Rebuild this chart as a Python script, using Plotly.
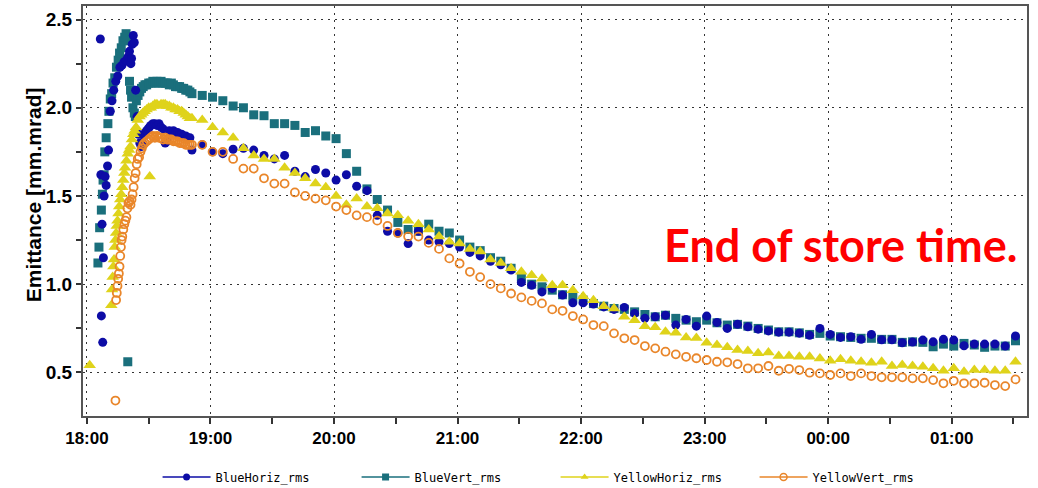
import plotly.graph_objects as go
import pandas as pd

# ---------------- data ----------------
# early (dense) samples, 18:00 - 18:51
bh_early_t = ["18:06:30", "18:06:45", "18:07:00", "18:07:20", "18:07:40", "18:08:00", "18:08:20", "18:08:50",
              "18:09:20", "18:10:00", "18:10:30", "18:11:20", "18:12:10", "18:13:00", "18:14:00", "18:15:00",
              "18:16:00", "18:17:00", "18:18:00", "18:19:00", "18:20:00", "18:20:40", "18:21:20", "18:21:40",
              "18:22:00", "18:22:30", "18:23:00", "18:23:40", "18:24:20", "18:25:00", "18:25:40", "18:26:20",
              "18:27:00", "18:27:40", "18:28:20", "18:29:00", "18:29:40", "18:30:20", "18:31:00", "18:32:00",
              "18:33:00", "18:34:00", "18:35:00", "18:36:00", "18:37:00", "18:38:00", "18:39:00", "18:40:00",
              "18:41:00", "18:42:00", "18:43:00", "18:44:00", "18:45:00", "18:46:00", "18:47:00", "18:48:00",
              "18:49:00", "18:50:00", "18:51:00"]
bh_early_v = [2.39, 1.62, 0.82, 1.34, 0.67, 1.15, 1.50, 1.61,
              1.56, 1.67, 1.76, 1.98, 2.04, 2.10, 2.15, 2.18,
              2.23, 2.24, 2.26, 2.27, 2.29, 2.32, 2.25, 2.28,
              2.36, 2.41, 2.37, 2.10, 1.95, 1.85, 1.80, 1.78,
              1.80, 1.84, 1.86, 1.87, 1.88, 1.89, 1.90, 1.91,
              1.91, 1.90, 1.91, 1.89, 1.88, 1.80, 1.81, 1.87,
              1.86, 1.87, 1.86, 1.86, 1.85, 1.85, 1.84, 1.84,
              1.83, 1.83, 1.76]

bv_early_t = ["18:05:20", "18:05:50", "18:06:10", "18:07:00", "18:07:30", "18:07:50", "18:08:20", "18:08:40",
              "18:09:20", "18:10:10", "18:10:40", "18:11:20", "18:12:00", "18:12:40", "18:13:30", "18:14:20",
              "18:15:10", "18:15:50", "18:16:40", "18:17:30", "18:18:20", "18:19:00", "18:19:50", "18:20:10",
              "18:20:40", "18:21:10", "18:21:40", "18:22:20", "18:23:00", "18:23:30", "18:24:00", "18:24:50",
              "18:25:40", "18:26:30", "18:27:20", "18:28:10", "18:29:00", "18:30:00", "18:31:00", "18:32:00",
              "18:33:00", "18:34:00", "18:35:00", "18:36:00", "18:37:00", "18:38:00", "18:39:00", "18:40:00",
              "18:41:00", "18:42:00", "18:43:00", "18:44:00", "18:45:00", "18:46:00", "18:47:00", "18:48:00",
              "18:49:00", "18:50:00", "18:51:00"]
bv_early_v = [1.12, 1.21, 1.32, 1.42, 1.51, 1.59, 1.62, 1.75,
              1.83, 1.91, 1.98, 2.05, 2.08, 2.14, 2.17, 2.23,
              2.27, 2.31, 2.34, 2.38, 2.40, 2.42, 0.56, 2.38,
              2.15, 2.10, 2.06, 2.00, 1.97, 1.95, 2.04, 2.07,
              2.09, 2.11, 2.12, 2.13, 2.13, 2.14, 2.14, 2.15,
              2.14, 2.15, 2.14, 2.15, 2.14, 2.14, 2.14, 2.13,
              2.14, 2.13, 2.12, 2.12, 2.12, 2.11, 2.11, 2.10,
              2.10, 2.09, 2.08]

yh_early_t = ["18:01:20", "18:11:50", "18:12:10", "18:12:30", "18:12:50", "18:13:10", "18:13:30", "18:13:50",
              "18:14:10", "18:14:30", "18:14:50", "18:15:20", "18:15:40", "18:16:10", "18:16:40", "18:17:10",
              "18:17:40", "18:18:10", "18:18:30", "18:19:10", "18:19:50", "18:20:30", "18:21:10", "18:21:50",
              "18:22:30", "18:23:10", "18:23:50", "18:24:40", "18:25:30", "18:26:20", "18:27:10", "18:28:00",
              "18:29:00", "18:30:00", "18:30:30", "18:31:00", "18:32:00", "18:33:00", "18:34:00", "18:35:00",
              "18:36:00", "18:37:00", "18:38:00", "18:39:00", "18:40:00", "18:41:00", "18:42:00", "18:43:00",
              "18:44:00", "18:45:00", "18:46:00", "18:47:00", "18:48:00", "18:49:00", "18:50:00", "18:51:00"]
yh_early_v = [0.54, 0.88, 0.97, 1.04, 1.10, 1.14, 1.21, 1.25,
              1.29, 1.33, 1.36, 1.40, 1.44, 1.48, 1.51, 1.55,
              1.59, 1.63, 1.66, 1.70, 1.74, 1.76, 1.78, 1.82,
              1.85, 1.87, 1.89, 1.93, 1.95, 1.96, 1.97, 1.98,
              1.99, 2.00, 1.61, 2.00, 2.01, 2.02, 2.02, 2.01,
              2.02, 2.02, 2.02, 2.01, 2.01, 2.00, 2.00, 1.99,
              1.99, 1.98, 1.98, 1.97, 1.96, 1.95, 1.94, 1.94]

yv_early_t = ["18:13:50", "18:14:10", "18:14:30", "18:14:50", "18:15:10", "18:15:30", "18:15:50", "18:16:10",
              "18:16:30", "18:16:50", "18:17:10", "18:17:40", "18:18:10", "18:18:40", "18:19:10", "18:19:40",
              "18:20:10", "18:20:40", "18:21:10", "18:21:40", "18:22:10", "18:22:40", "18:23:10", "18:23:40",
              "18:24:10", "18:24:40", "18:25:20", "18:26:00", "18:26:40", "18:27:20", "18:28:00", "18:29:00",
              "18:30:00", "18:31:00", "18:32:00", "18:33:00", "18:34:00", "18:35:00", "18:36:00", "18:37:00",
              "18:38:00", "18:39:00", "18:40:00", "18:41:00", "18:42:00", "18:43:00", "18:44:00", "18:45:00",
              "18:46:00", "18:47:00", "18:48:00", "18:49:00", "18:50:00", "18:51:00"]
yv_early_v = [0.34, 0.91, 0.95, 0.99, 1.03, 1.06, 1.10, 1.16,
              1.21, 1.25, 1.27, 1.31, 1.34, 1.36, 1.38, 1.43,
              1.46, 1.47, 1.45, 1.48, 1.51, 1.55, 1.60, 1.63,
              1.68, 1.71, 1.72, 1.75, 1.77, 1.79, 1.80, 1.81,
              1.82, 1.83, 1.84, 1.83, 1.84, 1.83, 1.83, 1.82,
              1.83, 1.82, 1.82, 1.82, 1.81, 1.81, 1.81, 1.80,
              1.80, 1.80, 1.79, 1.79, 1.79, 1.79]

# later samples (every ~5 min), shared by all four series
late_t = ["18:56", "19:01", "19:06", "19:11", "19:16", "19:21", "19:26", "19:31", "19:36", "19:41",
          "19:46", "19:51", "19:56", "20:01", "20:06", "20:11", "20:16", "20:21", "20:26", "20:31",
          "20:36", "20:41", "20:46", "20:51", "20:56", "21:01", "21:06", "21:11", "21:16", "21:21",
          "21:26", "21:31", "21:36", "21:41", "21:46", "21:51", "21:56", "22:01", "22:06", "22:11",
          "22:16", "22:21", "22:26", "22:31", "22:36", "22:41", "22:46", "22:51", "22:56", "23:01",
          "23:06", "23:11", "23:16", "23:21", "23:26", "23:31", "23:36", "23:41", "23:46", "23:51",
          "23:56", "00:01", "00:06", "00:11", "00:16", "00:21", "00:26", "00:31", "00:36", "00:41",
          "00:46", "00:51", "00:56", "01:01", "01:06", "01:11", "01:16", "01:21", "01:26", "01:31"]
bh_late = [1.79, 1.75, 1.74, 1.765, 1.77, 1.76, 1.73, 1.71, 1.73, 1.64,
           1.61, 1.65, 1.63, 1.59, 1.62, 1.555, 1.53, 1.39, 1.30, 1.29,
           1.23, 1.30, 1.25, 1.24, 1.23, 1.21, 1.18, 1.16, 1.13, 1.11,
           1.08, 1.01, 0.994, 0.956, 0.976, 0.938, 0.894, 0.894, 0.887, 0.871,
           0.857, 0.868, 0.834, 0.806, 0.815, 0.824, 0.768, 0.80, 0.762, 0.819,
           0.783, 0.749, 0.772, 0.758, 0.745, 0.735, 0.728, 0.728, 0.722, 0.710,
           0.749, 0.715, 0.698, 0.702, 0.687, 0.715, 0.685, 0.685, 0.668, 0.672,
           0.683, 0.673, 0.687, 0.683, 0.651, 0.66, 0.66, 0.66, 0.649, 0.706]
bv_late = [2.07, 2.06, 2.04, 2.01, 2.00, 1.96, 1.955, 1.91, 1.91, 1.90,
           1.86, 1.87, 1.84, 1.825, 1.74, 1.64, 1.54, 1.48, 1.42, 1.35,
           1.31, 1.30, 1.34, 1.30, 1.29, 1.25, 1.21, 1.19, 1.15, 1.13,
           1.09, 1.04, 1.00, 0.985, 0.966, 0.94, 0.925, 0.91, 0.89, 0.875,
           0.862, 0.857, 0.843, 0.828, 0.815, 0.824, 0.806, 0.796, 0.787, 0.796,
           0.781, 0.768, 0.772, 0.762, 0.749, 0.740, 0.730, 0.730, 0.724, 0.715,
           0.721, 0.706, 0.702, 0.698, 0.693, 0.693, 0.687, 0.687, 0.670, 0.673,
           0.670, 0.645, 0.660, 0.649, 0.664, 0.655, 0.642, 0.649, 0.649, 0.679]
yh_late = [1.93, 1.89, 1.86, 1.83, 1.77, 1.73, 1.71, 1.71, 1.66, 1.63,
           1.60, 1.57, 1.55, 1.50, 1.45, 1.485, 1.44, 1.43, 1.40, 1.39,
           1.36, 1.34, 1.31, 1.27, 1.24, 1.23, 1.20, 1.185, 1.14, 1.12,
           1.09, 1.07, 1.05, 1.03, 0.994, 0.994, 0.966, 0.932, 0.909, 0.875,
           0.862, 0.815, 0.796, 0.762, 0.755, 0.73, 0.724, 0.698, 0.695, 0.668,
           0.655, 0.642, 0.626, 0.621, 0.608, 0.613, 0.592, 0.592, 0.588, 0.588,
           0.579, 0.566, 0.574, 0.566, 0.56, 0.554, 0.56, 0.536, 0.541, 0.536,
           0.532, 0.523, 0.509, 0.523, 0.503, 0.513, 0.513, 0.509, 0.509, 0.56]
yv_late = [1.79, 1.75, 1.75, 1.71, 1.655, 1.655, 1.60, 1.57, 1.57, 1.52,
           1.50, 1.485, 1.475, 1.44, 1.42, 1.39, 1.38, 1.36, 1.33, 1.29,
           1.27, 1.27, 1.234, 1.20, 1.146, 1.117, 1.07, 1.04, 1.00, 0.976,
           0.947, 0.925, 0.905, 0.891, 0.857, 0.849, 0.819, 0.80, 0.768, 0.762,
           0.721, 0.693, 0.683, 0.649, 0.636, 0.617, 0.602, 0.588, 0.58, 0.57,
           0.56, 0.557, 0.547, 0.523, 0.523, 0.536, 0.509, 0.52, 0.513, 0.498,
           0.494, 0.485, 0.494, 0.479, 0.494, 0.479, 0.472, 0.472, 0.472, 0.466,
           0.466, 0.456, 0.438, 0.452, 0.438, 0.438, 0.441, 0.428, 0.422, 0.46]

series_names = ["BlueHoriz_rms", "BlueVert_rms", "YellowHoriz_rms", "YellowVert_rms"]
x_tick_labels = ["18:00", "19:00", "20:00", "21:00", "22:00", "23:00", "00:00", "01:00"]
y_tick_vals = [0.5, 1.0, 1.5, 2.0, 2.5]
y_title = "Emittance [mm.mrad]"
annotation_text = "End of store time."


def to_dt(times):
    out = []
    for s in times:
        day = "2024-01-01" if int(s[:2]) >= 12 else "2024-01-02"
        out.append(pd.Timestamp(f"{day} {s}"))
    return out


colors = {"BlueHoriz_rms": "#0d0ca6", "BlueVert_rms": "#1a6f7c",
          "YellowHoriz_rms": "#dfd31b", "YellowVert_rms": "#e9862a"}
symbols = {"BlueHoriz_rms": "circle", "BlueVert_rms": "square",
           "YellowHoriz_rms": "triangle-up", "YellowVert_rms": "circle-open"}
sizes = {"BlueHoriz_rms": 9, "BlueVert_rms": 9, "YellowHoriz_rms": 11, "YellowVert_rms": 8}

data = {
    "BlueHoriz_rms": (to_dt(bh_early_t + late_t), bh_early_v + bh_late),
    "BlueVert_rms": (to_dt(bv_early_t + late_t), bv_early_v + bv_late),
    "YellowHoriz_rms": (to_dt(yh_early_t + late_t), yh_early_v + yh_late),
    "YellowVert_rms": (to_dt(yv_early_t + late_t), yv_early_v + yv_late),
}

fig = go.Figure()
for name in ["BlueVert_rms", "BlueHoriz_rms", "YellowHoriz_rms", "YellowVert_rms"]:
    xs, ys = data[name]
    mk = dict(symbol=symbols[name], size=sizes[name], color=colors[name])
    if name == "YellowVert_rms":
        mk["line"] = dict(color=colors[name], width=1.8)
    fig.add_trace(go.Scatter(x=xs, y=ys, mode="markers", marker=mk, name=name,
                             showlegend=False, hoverinfo="skip"))

# legend entries (line + marker symbol, as in the original)
for name in series_names:
    mk = dict(symbol=symbols[name], size=7, color=colors[name])
    if name == "YellowVert_rms":
        mk["line"] = dict(color=colors[name], width=1.5)
    fig.add_trace(go.Scatter(x=[None], y=[None], mode="lines+markers", name=name,
                             line=dict(color=colors[name], width=1.5), marker=mk))

fig.add_annotation(text=annotation_text, xref="paper", yref="paper", x=0.992, y=0.418,
                   xanchor="right", yanchor="middle", showarrow=False,
                   font=dict(family="Lato", size=45, color="#ff0000", weight="bold"))
fig.add_annotation(text=y_title, xref="paper", yref="paper", x=-0.053, y=0.541,
                   xanchor="center", yanchor="middle", textangle=-90, showarrow=False,
                   font=dict(family="Liberation Sans", size=21, color="#000000", weight="bold"))

tickvals = to_dt(x_tick_labels)
fig.update_xaxes(
    type="date", automargin=False,
    range=[pd.Timestamp("2024-01-01 17:58:05"), pd.Timestamp("2024-01-02 01:36:35")],
    tickvals=tickvals, ticktext=x_tick_labels,
    showgrid=True, gridcolor="#333333", griddash="2px,5px", gridwidth=1,
    ticks="outside", ticklen=6, tickcolor="#333333", tickwidth=1.5,
    minor=dict(dtick=1800000, ticks="outside", ticklen=6, tickcolor="#333333", tickwidth=1.5, showgrid=False),
    showline=True, mirror=True, linecolor="#555555", linewidth=2,
    tickfont=dict(family="Liberation Sans", size=17, color="#000000", weight="bold"),
    zeroline=False,
)
fig.update_yaxes(
    automargin=False,
    range=[0.2525, 2.577],
    tickvals=y_tick_vals, ticktext=[f"{v:.1f}" for v in y_tick_vals],
    showgrid=True, gridcolor="#333333", griddash="2px,5px", gridwidth=1,
    ticks="outside", ticklen=5, tickcolor="#333333", tickwidth=1.5,
    minor=dict(dtick=0.25, tick0=0.5, ticks="outside", ticklen=5, tickcolor="#333333", tickwidth=1.5, showgrid=False),
    showline=True, mirror=True, linecolor="#555555", linewidth=2,
    tickfont=dict(family="Liberation Sans", size=19, color="#000000", weight="bold"),
    zeroline=False,
)

fig.update_layout(
    width=1038, height=488,
    margin=dict(l=83, r=11, t=6, b=72, autoexpand=False),
    paper_bgcolor="white", plot_bgcolor="white",
    legend=dict(orientation="h", x=0.079, xanchor="left", y=-0.149, yanchor="middle",
                font=dict(family="DejaVu Sans Mono", size=12, color="#000000"),
                itemwidth=48, entrywidth=136, bgcolor="rgba(0,0,0,0)"),
)

fig.write_html("out.html", config={"displayModeBar": False},
               post_script="document.body.style.margin='0';document.body.style.overflow='hidden';")
